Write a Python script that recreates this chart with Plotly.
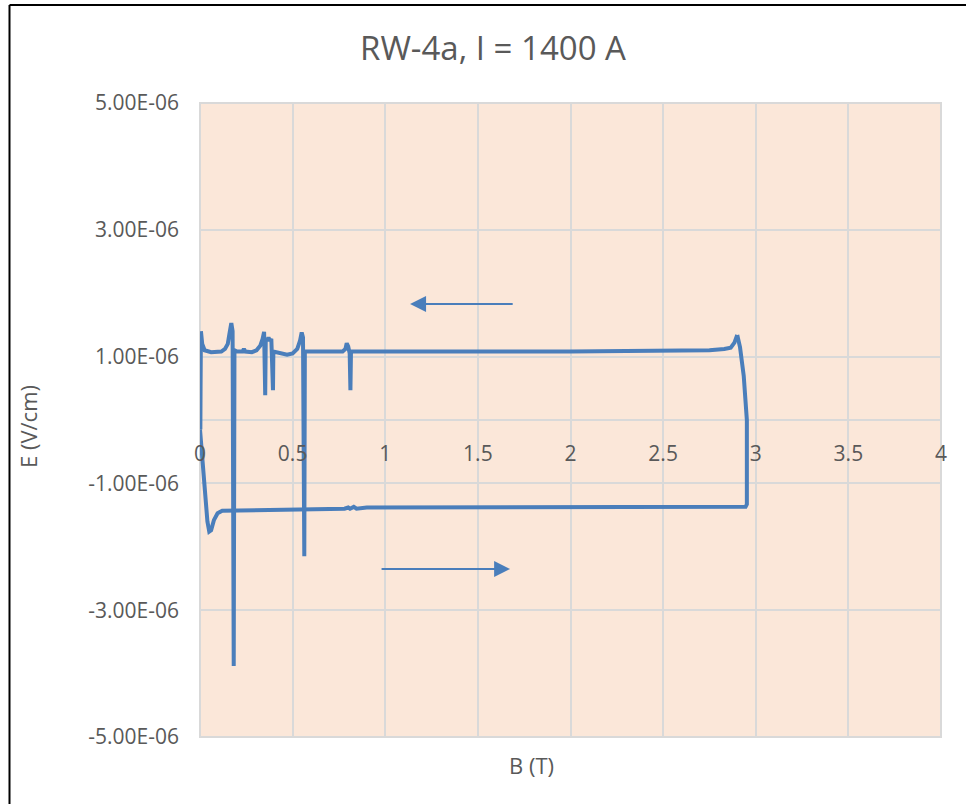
import plotly.graph_objects as go

# Ascending field sweep (B up), E in V/cm
B_up = [0.000, 0.020, 0.040, 0.050, 0.060, 0.075, 0.095, 0.120, 0.300, 0.550,
        0.780, 0.800, 0.810, 0.830, 0.845, 0.900, 1.200, 1.600, 2.000, 2.500,
        2.800, 2.945, 2.952, 2.952, 2.935, 2.915, 2.900]
E_up = [-0.15e-6, -0.95e-6, -1.60e-6, -1.76e-6, -1.74e-6, -1.58e-6, -1.47e-6, -1.43e-6, -1.42e-6, -1.41e-6,
        -1.40e-6, -1.38e-6, -1.40e-6, -1.37e-6, -1.40e-6, -1.38e-6, -1.38e-6, -1.37e-6, -1.37e-6, -1.37e-6,
        -1.37e-6, -1.37e-6, -1.33e-6, 0.00e-6, 0.70e-6, 1.15e-6, 1.34e-6]

# Descending field sweep (B down)
B_down = [2.900, 2.885, 2.865, 2.830, 2.750, 2.500, 2.000, 1.500, 1.000, 0.830,
          0.815, 0.812, 0.808, 0.800, 0.792, 0.785, 0.770, 0.600, 0.566, 0.563,
          0.556, 0.549, 0.540, 0.525, 0.500, 0.470, 0.440, 0.410, 0.396, 0.394,
          0.391, 0.385, 0.378, 0.370, 0.362, 0.355, 0.352, 0.349, 0.346, 0.338,
          0.325, 0.305, 0.280, 0.245, 0.237, 0.230, 0.200, 0.186, 0.182, 0.176,
          0.169, 0.160, 0.150, 0.135, 0.115, 0.060, 0.040, 0.025, 0.012, 0.005,
          0.003, 0.002]
E_down = [1.34e-6, 1.22e-6, 1.14e-6, 1.12e-6, 1.10e-6, 1.09e-6, 1.08e-6, 1.08e-6, 1.08e-6, 1.08e-6,
          1.08e-6, 0.47e-6, 1.05e-6, 1.16e-6, 1.21e-6, 1.12e-6, 1.08e-6, 1.08e-6, 1.08e-6, -2.15e-6,
          1.30e-6, 1.38e-6, 1.25e-6, 1.12e-6, 1.05e-6, 1.03e-6, 1.05e-6, 1.08e-6, 1.08e-6, 0.47e-6,
          1.10e-6, 1.28e-6, 1.25e-6, 1.30e-6, 1.25e-6, 1.28e-6, 0.39e-6, 1.30e-6, 1.39e-6, 1.28e-6,
          1.17e-6, 1.10e-6, 1.07e-6, 1.08e-6, 1.12e-6, 1.08e-6, 1.08e-6, 1.10e-6, -3.88e-6, 1.40e-6,
          1.53e-6, 1.38e-6, 1.20e-6, 1.12e-6, 1.08e-6, 1.07e-6, 1.08e-6, 1.10e-6, 1.20e-6, 1.40e-6,
          0.50e-6, -0.15e-6]

y_ticks = [-5e-6, -3e-6, -1e-6, 1e-6, 3e-6, 5e-6]
y_tick_labels = ["-5.00E-06", "-3.00E-06", "-1.00E-06", "1.00E-06", "3.00E-06", "5.00E-06"]
x_ticks = [0, 0.5, 1, 1.5, 2, 2.5, 3, 3.5, 4]
x_tick_labels = ["0", "0.5", "1", "1.5", "2", "2.5", "3", "3.5", "4"]

LINE = "#4A7EBB"
GRID = "#D9D9D9"
TXT = "#595959"
FONT = "Open Sans"

fig = go.Figure()
fig.add_trace(go.Scatter(x=B_up, y=E_up, mode="lines",
                         line=dict(color=LINE, width=4), showlegend=False, hoverinfo="skip"))
fig.add_trace(go.Scatter(x=B_down, y=E_down, mode="lines",
                         line=dict(color=LINE, width=4), showlegend=False, hoverinfo="skip"))

W, H = 966, 804
L, R, T, Bm = 200, 25, 103, 67
pw, ph = W - L - R, H - T - Bm

def px(xp):
    return (xp - L) / pw

def py(yp):
    return (H - Bm - yp) / ph

fig.update_layout(
    width=W, height=H,
    margin=dict(l=L, r=R, t=T, b=Bm, autoexpand=False),
    paper_bgcolor="white",
    plot_bgcolor="#FBE7D9",
    font=dict(family=FONT, color=TXT, size=21),
    title=dict(text="RW-4a, I = 1400 A", x=493 / W, xref="container", xanchor="center",
               y=1 - 48 / H, yref="container", yanchor="middle",
               font=dict(family=FONT, size=33, color=TXT)),
    xaxis=dict(range=[0, 4], tickvals=x_ticks, ticktext=x_tick_labels,
               showgrid=True, gridcolor=GRID, gridwidth=2, zeroline=False,
               showline=False, ticks="", anchor="free", position=0.5,
               ticklabelstandoff=19, tickfont=dict(size=21, color=TXT)),
    yaxis=dict(range=[-5e-6, 5e-6], tickvals=y_ticks, ticktext=y_tick_labels,
               showgrid=True, gridcolor=GRID, gridwidth=2,
               zeroline=True, zerolinecolor=GRID, zerolinewidth=2,
               showline=False, ticks="", ticklabelstandoff=20,
               tickfont=dict(size=21, color=TXT)),
    annotations=[
        dict(x=1.134, y=1.83e-6, ax=1.696, ay=1.83e-6, xref="x", yref="y", axref="x", ayref="y",
             text="", showarrow=True, arrowhead=2, arrowsize=1.6, arrowwidth=2, arrowcolor=LINE),
        dict(x=1.674, y=-2.35e-6, ax=0.972, ay=-2.35e-6, xref="x", yref="y", axref="x", ayref="y",
             text="", showarrow=True, arrowhead=2, arrowsize=1.6, arrowwidth=2, arrowcolor=LINE),
        dict(text="B (T)", x=px(531), y=py(765), xref="paper", yref="paper",
             xanchor="center", yanchor="middle", showarrow=False,
             font=dict(family=FONT, size=22, color=TXT)),
        dict(text="E (V/cm)", x=px(28), y=py(427), xref="paper", yref="paper",
             xanchor="center", yanchor="middle", showarrow=False, textangle=-90,
             font=dict(family=FONT, size=22, color=TXT)),
    ],
    shapes=[
        dict(type="rect", xref="paper", yref="paper", x0=0, x1=1, y0=0, y1=1,
             line=dict(color=GRID, width=2), layer="below"),
        dict(type="line", xref="paper", yref="paper", x0=px(9.5), x1=px(9.5), y0=py(5), y1=py(806),
             line=dict(color="black", width=2)),
        dict(type="line", xref="paper", yref="paper", x0=px(9.5), x1=px(968), y0=py(5), y1=py(5),
             line=dict(color="black", width=2)),
    ],
)

fig.write_html("out.html", config={"displayModeBar": False},
               post_script="document.body.style.margin='0';document.body.style.overflow='hidden';")
